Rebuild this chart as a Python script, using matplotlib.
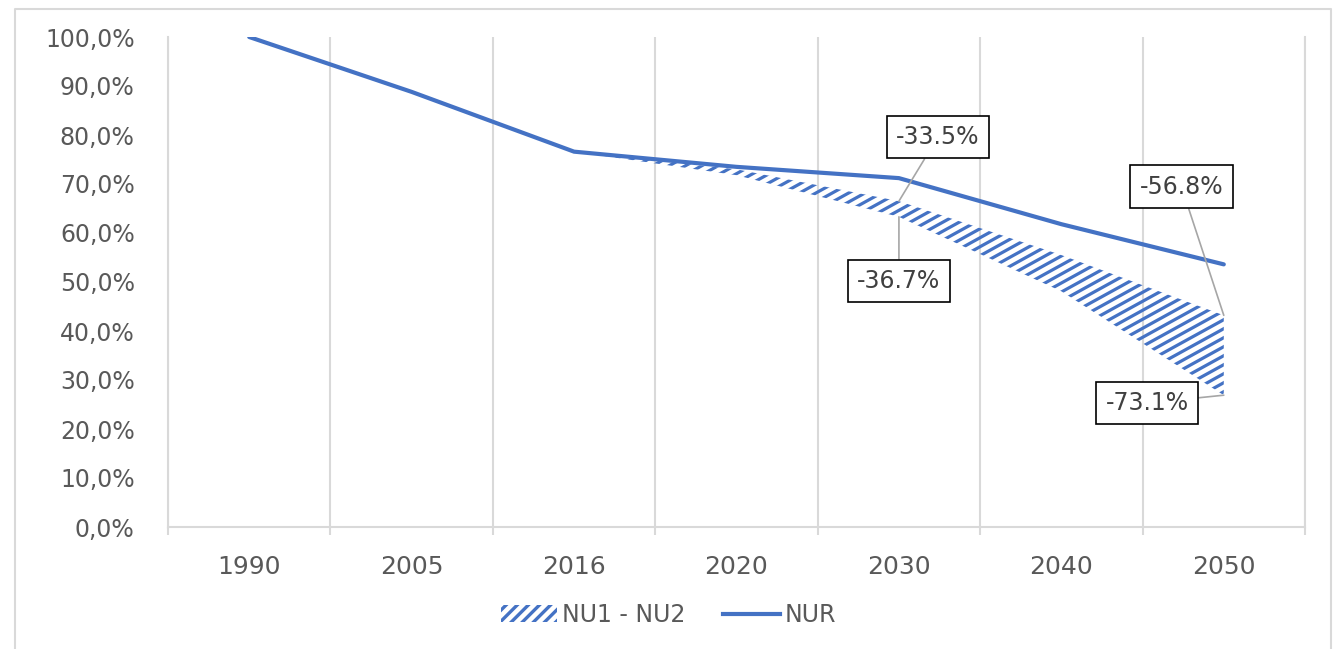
import numpy as np
import matplotlib
matplotlib.use("Agg")
import matplotlib.pyplot as plt
from matplotlib.collections import LineCollection
from matplotlib.lines import Line2D
from matplotlib.patches import Patch
from matplotlib.transforms import IdentityTransform

# ---- data ----
years = ["1990", "2005", "2016", "2020", "2030", "2040", "2050"]
nur = [100.0, 88.8, 76.6, 73.5, 71.2, 61.8, 53.6]
nu1 = [np.nan, np.nan, 76.6, 73.0, 66.5, 55.5, 43.2]
nu2 = [np.nan, np.nan, 76.6, 71.8, 63.3, 48.1, 26.9]

# annotation labels: (text, series, category index, text position)
labels = [
    ("-33.5%", nu1, 4, (4.24, 79.6)),
    ("-36.7%", nu2, 4, (4.0, 50.2)),
    ("-56.8%", nu1, 6, (5.74, 69.4)),
    ("-73.1%", nu2, 6, (5.53, 25.3)),
]

BLUE = "#4472C4"
GRID = "#D9D9D9"
TXT = "#595959"

plt.rcParams["font.family"] = ["DejaVu Sans"]
plt.rcParams["hatch.linewidth"] = 2.4

fig = plt.figure(figsize=(13.37, 6.49), dpi=100)
ax = fig.add_axes([168 / 1337, 1 - 527 / 649, (1305 - 168) / 1337, 490 / 649])

x = np.arange(len(years))
lo = np.array(nu2, float) / 100
hi = np.array(nu1, float) / 100
ok = ~np.isnan(lo)

# band outline (invisible) used as clip path for the diagonal pattern
band = ax.fill_between(x[ok], lo[ok], hi[ok], facecolor="none", edgecolor="none", lw=0)

ax.plot(x, np.array(nur) / 100, color=BLUE, lw=3, solid_capstyle="round", zorder=4)

ax.set_xlim(-0.5, len(years) - 0.5)
ax.set_ylim(0, 1)

# ---- diagonal pattern (pixel space, clipped to the band) ----
bb = ax.bbox
slope = 0.55
step = 9.0
cs = np.arange(bb.y0 - slope * bb.x1, bb.y1 - slope * bb.x0, step)
segs = [[(bb.x0, slope * bb.x0 + c), (bb.x1, slope * bb.x1 + c)] for c in cs]
hatch = LineCollection(segs, colors=BLUE, linewidths=2.3, transform=IdentityTransform(), zorder=3)
hatch.set_clip_path(band.get_paths()[0], ax.transData)
ax.add_collection(hatch, autolim=False)

# ---- axes styling ----
ax.spines["top"].set_visible(False)
for s in ["left", "right", "bottom"]:
    ax.spines[s].set_color(GRID)
    ax.spines[s].set_linewidth(1.5)

ax.set_xticks(x)
ax.set_xticklabels(years, fontsize=18, color=TXT)
ax.set_xticks(np.arange(-0.5, len(years)), minor=True)
ax.tick_params(axis="x", which="major", length=0, pad=20)
ax.tick_params(axis="x", which="minor", length=6, width=1.5, color=GRID)
ax.grid(which="minor", axis="x", color=GRID, lw=1.5)

ax.set_yticks(np.linspace(0, 1, 11))
ax.set_yticklabels([f"{v:.1f}%".replace(".", ",") for v in np.linspace(0, 100, 11)],
                   fontsize=17, color=TXT)
ax.tick_params(axis="y", length=0, pad=24)

# ---- data labels ----
for txt, ser, i, pos in labels:
    ax.annotate(txt, xy=(i, ser[i] / 100), xytext=(pos[0], pos[1] / 100),
                fontsize=17, color="#404040", ha="center", va="center",
                bbox=dict(boxstyle="square,pad=0.4", fc="white", ec="black", lw=1.2),
                arrowprops=dict(arrowstyle="-", color="#A6A6A6", lw=1.2,
                                shrinkA=0, shrinkB=0),
                zorder=6)

# ---- legend ----
handles = [
    Patch(facecolor="white", edgecolor=BLUE, hatch="///", lw=0, label="NU1 - NU2"),
    Line2D([], [], color=BLUE, lw=3, label="NUR"),
]
leg = fig.legend(handles=handles, loc="center", bbox_to_anchor=(0.5, 1 - 615 / 649),
                 ncol=2, frameon=False, fontsize=17, handlelength=2.4,
                 handletextpad=0.2, columnspacing=1.6)
for t in leg.get_texts():
    t.set_color(TXT)

# chart area border
fx0, fy1, fx1 = 15 / 1337, 1 - 9 / 649, 1331 / 1337
fig.add_artist(Line2D([fx0, fx0, fx1, fx1], [0, fy1, fy1, 0], transform=fig.transFigure,
                      color=GRID, lw=1.5))

fig.savefig("out.png", dpi=100, facecolor="white")
